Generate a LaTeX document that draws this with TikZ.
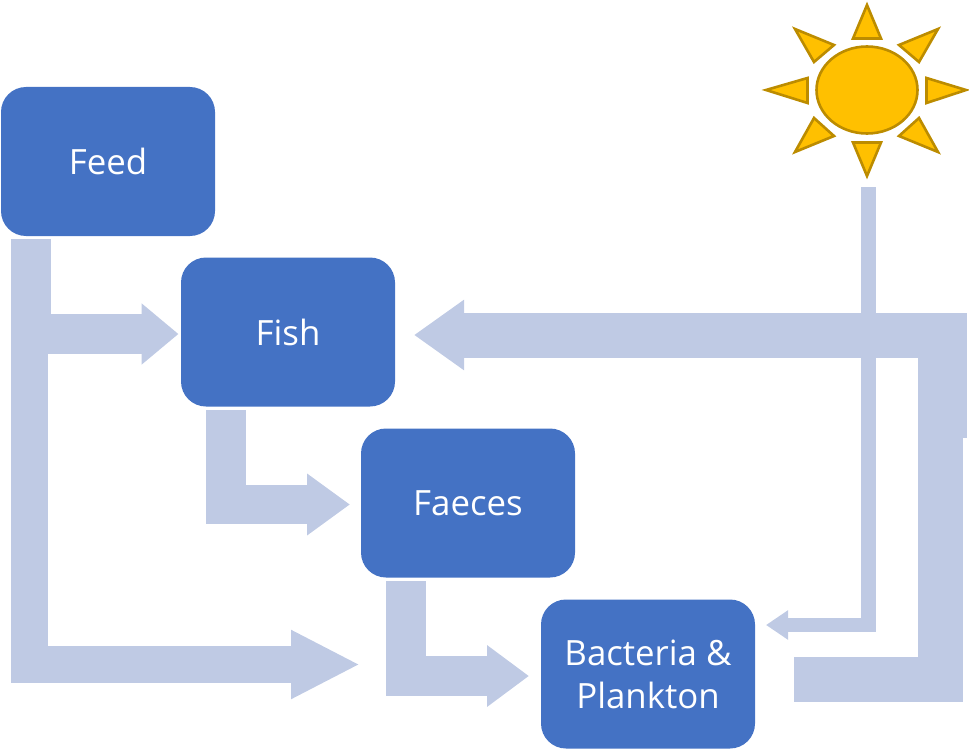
\documentclass[tikz,border=0pt]{standalone}
\usepackage{fontspec}
\setmainfont{Open Sans}
\usetikzlibrary{arrows.meta,shapes.geometric}
\definecolor{boxblue}{HTML}{4472C4}
\definecolor{flowblue}{HTML}{BFCAE4}
\definecolor{sunfill}{HTML}{FFC000}
\definecolor{sunline}{HTML}{BC8C00}
\tikzset{
  x=1pt,y=-1pt,
  stage/.style={rectangle,rounded corners=25pt,fill=boxblue,text=white,minimum width=214pt,minimum height=149pt,inner sep=0pt,align=center,font=\fontsize{34.8}{43}\selectfont},
  flowpipe/.style={draw=flowblue,line width=#1,line join=miter,line cap=butt},
  flowhead/.style n args={3}{flowpipe=#1,-{Triangle[length=#2,width=#3,fill=flowblue,color=flowblue]}},
  ray/.style={fill=sunfill,draw=sunline,line width=2.6pt,line join=miter},
  sundisc/.style={ellipse,fill=sunfill,draw=sunline,line width=2.6pt,minimum width=101pt,minimum height=87pt,inner sep=0pt}
}
\begin{document}
\begin{tikzpicture}
\useasboundingbox (0,0) rectangle (969,749);
% stages
\node[stage] (feed) at (108,161.5) {Feed};
\node[stage] (fish) at (288,332) {Fish};
\node[stage] (faeces) at (468,503) {Faeces};
\node[stage] (bacteria) at (648,674) {Bacteria \&\\Plankton};
\node[sundisc] (sun) at (867,90) {};
% connector ends
\coordinate (feedout) at (31,239);
\coordinate (fishinleft) at (178.5,334);
\coordinate (feedout2) at (29.5,294);
\coordinate (bacteriafar) at (360,664.5);
\coordinate (fishout) at (226,410);
\coordinate (faecesin) at (350,504.5);
\coordinate (faecesout) at (406,581);
\coordinate (bacteriain) at (529,676);
\coordinate (sunout) at (868.5,187);
\coordinate (bacteriaright) at (766,625);
\coordinate (loopstart) at (944.5,438);
\coordinate (fishinright) at (414,335);
\coordinate (bacteriaout) at (794,679.5);
\coordinate (loopend) at (940.5,357);
% flows
\draw[flowhead={40pt}{37pt}{59pt}] (feedout) |- (fishinleft);
\draw[flowhead={37pt}{69pt}{64pt}] (feedout2) |- (bacteriafar);
\draw[flowhead={39.5pt}{43pt}{59pt}] (fishout) |- (faecesin);
\draw[flowhead={40pt}{42pt}{59pt}] (faecesout) |- (bacteriain);
\draw[flowpipe=45pt] (bacteriaout) -| (loopend);
\draw[flowhead={45pt}{50pt}{67pt}] (loopstart) |- (fishinright);
\draw[flowhead={14.5pt}{22pt}{28pt}] (sunout) |- (bacteriaright);
% sun rays
\draw[ray] (867,5) -- (881,38.5) -- (853,38.5) -- cycle;
\draw[ray] (867,176) -- (881,142.5) -- (853,142.5) -- cycle;
\draw[ray] (766,90) -- (807.5,78) -- (807.5,103) -- cycle;
\draw[ray] (966,90) -- (926.5,78) -- (926.5,103) -- cycle;
\draw[ray] (795,29) -- (834,45) -- (814,62) -- cycle;
\draw[ray] (938,29) -- (899,45) -- (919,62) -- cycle;
\draw[ray] (795,152) -- (834,136) -- (814,118) -- cycle;
\draw[ray] (938,152) -- (899,136) -- (919,118) -- cycle;
\end{tikzpicture}
\end{document}
